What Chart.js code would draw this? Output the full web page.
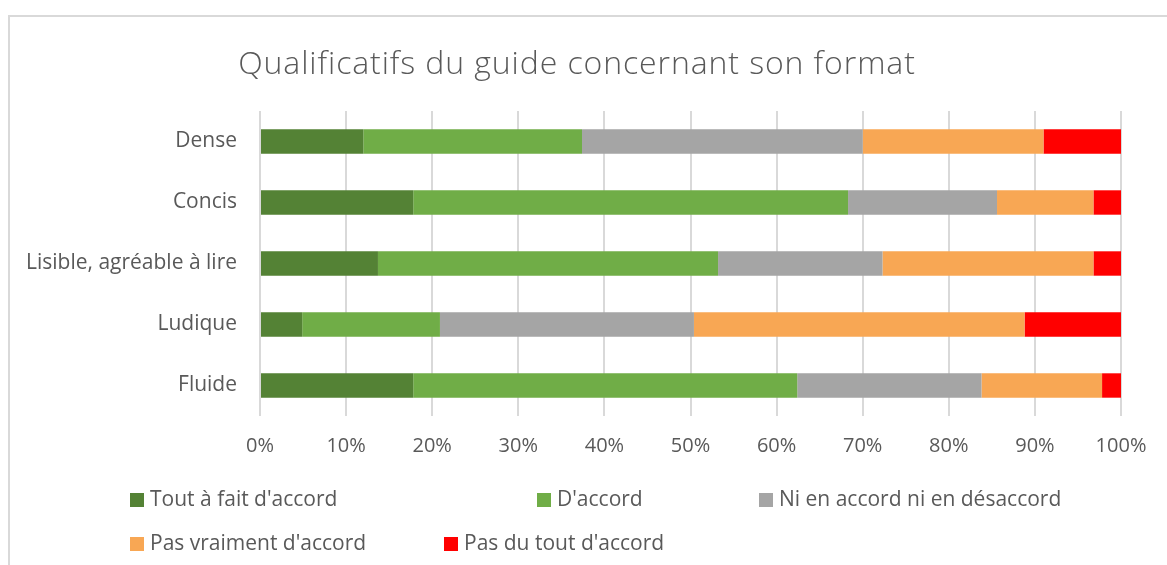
<!DOCTYPE html>
<html lang="fr">
<head>
    <meta charset="UTF-8">
    <title>Qualificatifs du guide concernant son format</title>
    <script src="https://cdn.jsdelivr.net/npm/chart.js"></script>
    <style>
        body {
            margin: 0;
            background: #ffffff;
            font-family: 'Open Sans', Arial, sans-serif;
            color: #595959;
        }

        .wrap {
            position: relative;
            width: 1167px;
            height: 565px;
            overflow: hidden;
        }

        .frame {
            position: absolute;
            left: 8px;
            top: 15px;
            width: 1200px;
            height: 600px;
            border-left: 2px solid #d9d9d9;
            border-top: 2px solid #d9d9d9;
        }

        canvas {
            position: absolute;
            left: 0;
            top: 0;
        }

        .title {
            position: absolute;
            left: 0;
            width: 1154px;
            top: 40px;
            text-align: center;
            font-size: 32px;
            font-weight: 300;
            letter-spacing: 0.9px;
            line-height: 44px;
            color: #595959;
        }

        .legend-item {
            position: absolute;
            font-size: 21px;
            line-height: 26px;
            color: #595959;
            white-space: nowrap;
        }

        .legend-item span {
            display: inline-block;
            width: 14px;
            height: 14px;
            margin-right: 6px;
            vertical-align: -1px;
        }
    </style>
</head>
<body>
<div class="wrap">
    <div class="frame"></div>
    <canvas id="formatChart" width="1167" height="565"></canvas>
    <div class="title">Qualificatifs du guide concernant son format</div>
    <div id="legend"></div>
</div>

<script>
    const categories = ['Dense', 'Concis', 'Lisible, agréable à lire', 'Ludique', 'Fluide'];
    const toutAFait = [12.0, 17.8, 13.7, 4.9, 17.8];
    const dAccord = [25.4, 50.5, 39.5, 16.0, 44.6];
    const niAccordNiDesaccord = [32.6, 17.3, 19.1, 29.5, 21.4];
    const pasVraiment = [21.0, 11.2, 24.5, 38.4, 14.0];
    const pasDuTout = [9.0, 3.2, 3.2, 11.2, 2.2];

    const seriesNames = ["Tout à fait d'accord", "D'accord", "Ni en accord ni en désaccord", "Pas vraiment d'accord", "Pas du tout d'accord"];
    const seriesColors = ['#548235', '#70ad47', '#a5a5a5', '#f8a754', '#ff0000'];
    const seriesData = [toutAFait, dAccord, niAccordNiDesaccord, pasVraiment, pasDuTout];

    // legend positions (Excel places them unevenly)
    const legendPos = [[130, 485], [537, 485], [759, 485], [130, 529], [444, 529]];

    const textColor = '#595959';
    const fontFamily = "'Open Sans', Arial, sans-serif";

    const ctx = document.getElementById('formatChart').getContext('2d');
    const chart = new Chart(ctx, {
        type: 'bar',
        data: {
            labels: categories,
            datasets: seriesData.map((d, i) => ({
                label: seriesNames[i],
                data: d,
                backgroundColor: seriesColors[i],
                borderWidth: 0,
                categoryPercentage: 0.8,
                barPercentage: 0.5
            }))
        },
        options: {
            indexAxis: 'y',
            responsive: false,
            animation: false,
            layout: {
                padding: { top: 111, right: 46, bottom: 99, left: 0 }
            },
            plugins: {
                legend: { display: false },
                title: { display: false },
                tooltip: { enabled: false }
            },
            scales: {
                x: {
                    stacked: true,
                    min: 0,
                    max: 100,
                    border: { display: false },
                    grid: {
                        color: '#d9d9d9',
                        lineWidth: 2,
                        drawTicks: false
                    },
                    ticks: {
                        stepSize: 10,
                        padding: 18,
                        color: textColor,
                        font: { family: fontFamily, size: 20 },
                        callback: v => v + '%'
                    },
                    afterFit: s => { s.height = 50; }
                },
                y: {
                    stacked: true,
                    border: { display: false },
                    grid: { display: false, drawTicks: false },
                    ticks: {
                        padding: 23,
                        color: textColor,
                        font: { family: fontFamily, size: 21 }
                    },
                    afterFit: s => { s.width = 260; }
                }
            }
        }
    });

    // HTML legend
    const legend = document.getElementById('legend');
    seriesNames.forEach((name, i) => {
        const item = document.createElement('div');
        item.className = 'legend-item';
        item.style.left = legendPos[i][0] + 'px';
        item.style.top = legendPos[i][1] + 'px';
        item.innerHTML = '<span style="background:' + seriesColors[i] + '"></span>' + name;
        legend.appendChild(item);
    });
</script>
</body>
</html>
